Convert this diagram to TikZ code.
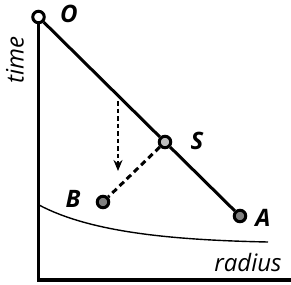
\documentclass[tikz,border=0pt]{standalone}
\usepackage{fontspec}
\setmainfont{Open Sans}
\usetikzlibrary{arrows.meta}
\begin{document}
\begin{tikzpicture}[x=1pt,y=-1pt,
  axis/.style={line width=3.5pt},
  mainline/.style={line width=3pt},
  pt/.style={circle,draw,line width=3pt,inner sep=0pt,minimum size=11.5pt},
  lbl/.style={font=\fontsize{24}{24}\selectfont\itshape\bfseries},
  axlbl/.style={font=\fontsize{24}{24}\selectfont\itshape}]
\useasboundingbox (0,0) rectangle (291,284);
\coordinate (origin) at (38.5,280);
\coordinate (xend) at (291,280);
\node[pt,fill=white] (O) at (38.5,17) {};
\node[pt,fill=black!25] (S) at (165,142) {};
\node[pt,fill=black!50] (B) at (103,202) {};
\node[pt,fill=black!50] (A) at (240,216) {};
\draw[axis] (O.south) -- (origin) -- (xend);
\draw[mainline] (O) -- (S) -- (A);
\draw[line width=3pt,dash pattern=on 6pt off 4pt] (S) -- (B);
\coordinate (d1) at (118,101);
\coordinate (d2) at (118,171);
\draw[line width=1.8pt,dash pattern=on 4.5pt off 3pt,-{Stealth[length=11pt,width=9pt,inset=3.5pt]}] (d1) -- (d2);
\coordinate (c1) at (39,205);
\coordinate (c2) at (268,242);
\draw[line width=1.4pt] (c1) .. controls (90,232) and (170,240) .. (c2);
\node[lbl] (lO) at (69,14) {O};
\node[lbl] (lS) at (197,141) {S};
\node[lbl] (lB) at (73,199) {B};
\node[lbl] (lA) at (263,218) {A};
\node[axlbl,rotate=90] (lt) at (15,60) {time};
\node[axlbl] (lr) at (248,262) {radius};
\end{tikzpicture}
\end{document}
